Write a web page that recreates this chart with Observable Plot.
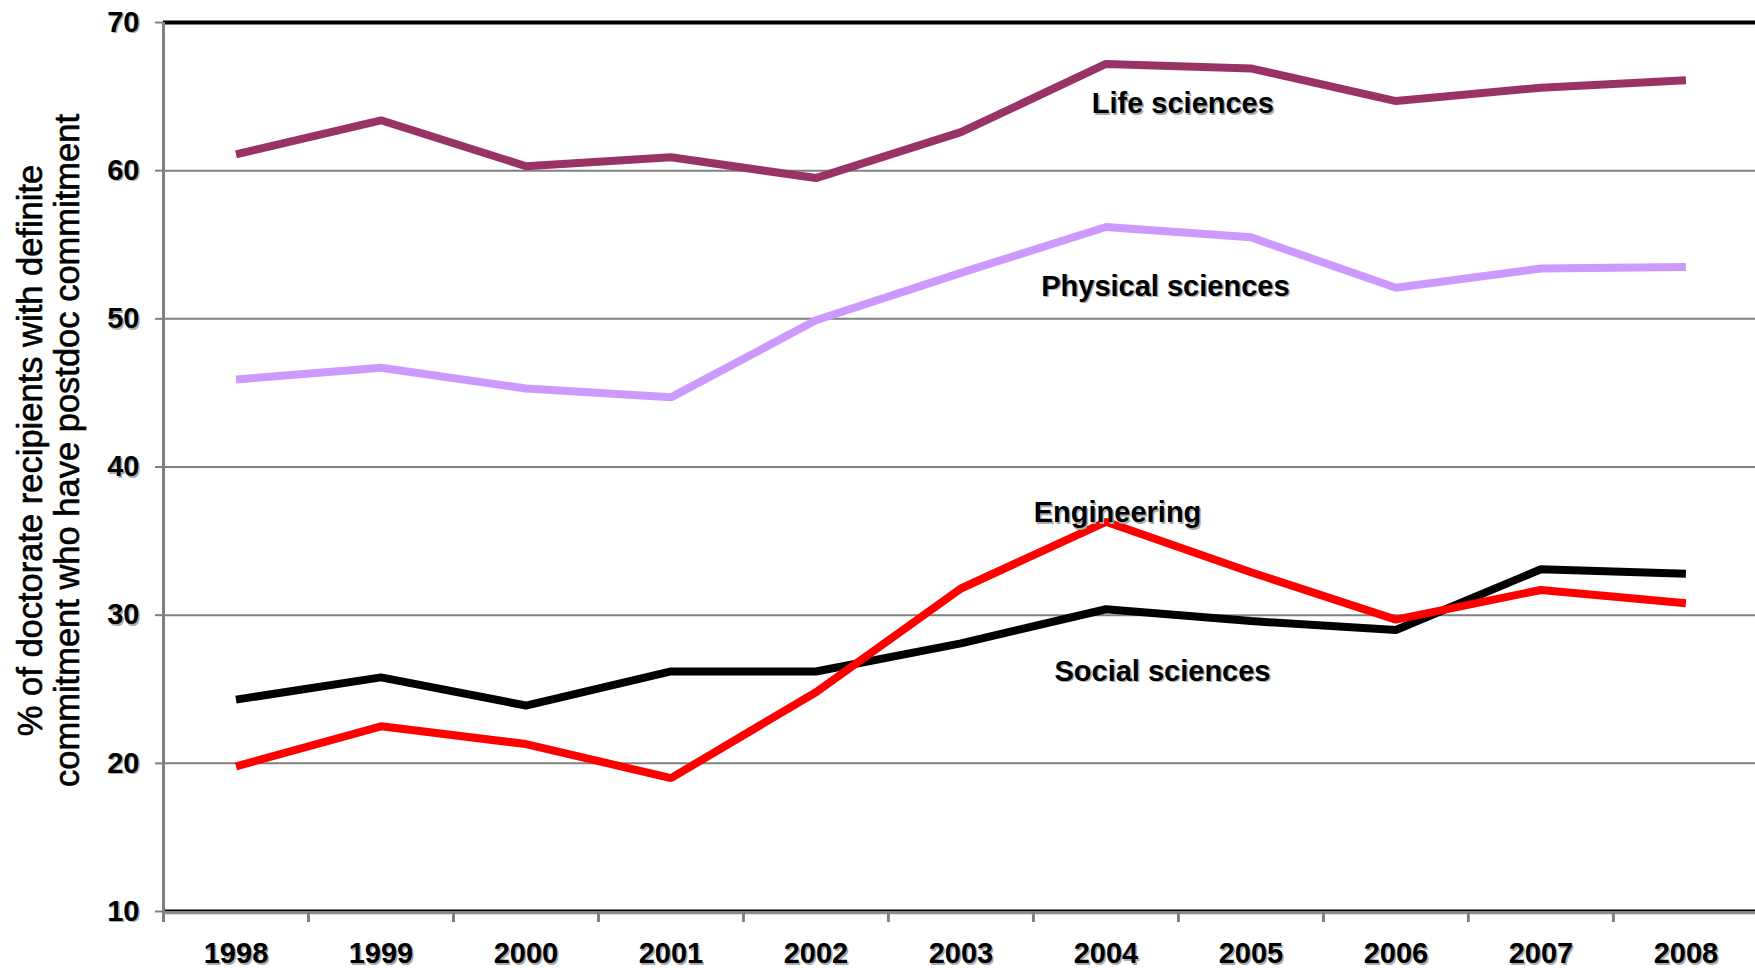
<!DOCTYPE html>
<html>
<head>
<meta charset="utf-8">
<script src="https://cdn.jsdelivr.net/npm/d3@7"></script>
<script src="https://cdn.jsdelivr.net/npm/@observablehq/plot@0.6"></script>
<style>
  html, body { margin: 0; padding: 0; background: #fff; overflow: hidden; }
  #chart svg { display: block; }
</style>
</head>
<body>
<div id="chart"></div>
<script>
// ---- data ----
const years = [1998, 1999, 2000, 2001, 2002, 2003, 2004, 2005, 2006, 2007, 2008];
const lifeSciences     = [61.1, 63.4, 60.3, 60.9, 59.5, 62.6, 67.2, 66.9, 64.7, 65.6, 66.1];
const physicalSciences = [45.9, 46.7, 45.3, 44.7, 49.9, 53.1, 56.2, 55.5, 52.1, 53.4, 53.5];
const socialSciences   = [24.3, 25.8, 23.9, 26.2, 26.2, 28.1, 30.4, 29.6, 29.0, 33.1, 32.8];
const engineering      = [19.8, 22.5, 21.3, 19.0, 24.8, 31.8, 36.3, 32.9, 29.7, 31.7, 30.8];

const seriesNames  = ["Life sciences", "Physical sciences", "Social sciences", "Engineering"];
const seriesValues = [lifeSciences, physicalSciences, socialSciences, engineering];
const seriesColors = ["#993366", "#CC99FF", "#000000", "#FF0000"];

const yTicks = [10, 20, 30, 40, 50, 60, 70];
const yTitleLines = ["% of doctorate recipients with definite", "commitment who have postdoc commitment"];

// in-chart series labels (position in data units)
const labelNames  = ["Life sciences", "Physical sciences", "Engineering", "Social sciences"];
const labelYears  = [2004.53, 2004.41, 2004.08, 2004.39];
const labelValues = [64.5, 52.2, 36.9, 26.2];

// ---- tables built from the arrays ----
const rows = seriesNames.flatMap((name, i) =>
  years.map((year, j) => ({series: name, year, value: seriesValues[i][j]})));
const labels = labelNames.map((name, i) => ({name, year: labelYears[i], value: labelValues[i]}));
const boundaries = [years[0] - 0.5, ...years.map(y => y + 0.5)];

const FONT = "Liberation Sans, Arial, sans-serif";

const chart = Plot.plot({
  width: 1755,
  height: 968,
  marginLeft: 163,
  marginRight: 0,
  marginTop: 22,
  marginBottom: 57,
  style: {fontFamily: FONT, background: "#fff", overflow: "visible"},
  x: {type: "linear", domain: [years[0] - 0.5, years[years.length - 1] + 0.48]},
  y: {domain: [yTicks[0], yTicks[yTicks.length - 1]]},
  color: {domain: seriesNames, range: seriesColors},
  marks: [
    // gridlines
    Plot.ruleY(yTicks.slice(1, -1), {stroke: "#808080", strokeWidth: 2}),
    // top border
    Plot.ruleY([yTicks[yTicks.length - 1]], {stroke: "#000", strokeWidth: 4}),
    // bottom: black plot edge + gray category axis line
    Plot.ruleY([yTicks[0]], {stroke: "#000", strokeWidth: 2, dy: -1}),
    Plot.ruleY([yTicks[0]], {stroke: "#8a8a8a", strokeWidth: 2.5, dy: 1.5}),
    // left value axis line
    Plot.ruleX([years[0] - 0.5], {stroke: "#808080", strokeWidth: 3}),
    // y axis: shadow + labels
    Plot.axisY(yTicks, {tickSize: 0, tickPadding: 24, tickFormat: d => String(d), fill: "#aaa",
      fontSize: 29, fontWeight: "bold", dx: 1.5, dy: 1.5, label: null}),
    Plot.axisY(yTicks, {tickSize: 8, tickPadding: 16, tickFormat: d => String(d), stroke: "#808080",
      strokeWidth: 2, fill: "#000", fontSize: 29, fontWeight: "bold", label: null}),
    // x axis: category boundary ticks
    Plot.axisX(boundaries, {tickSize: 10, tickFormat: () => "", stroke: "#808080", strokeWidth: 3,
      dy: 1, label: null}),
    // x axis labels (shadow + text)
    Plot.axisX(years, {tickSize: 0, tickPadding: 31, tickFormat: d => String(d), fill: "#aaa",
      fontSize: 29, fontWeight: "bold", dx: 1.5, dy: 1.5, label: null}),
    Plot.axisX(years, {tickSize: 0, tickPadding: 31, tickFormat: d => String(d), fill: "#000",
      fontSize: 29, fontWeight: "bold", label: null}),
    // series lines
    Plot.line(rows, {x: "year", y: "value", z: "series", stroke: "series", strokeWidth: 8,
      strokeLinejoin: "miter", strokeLinecap: "butt"}),
    // in-chart labels
    Plot.text(labels, {x: "year", y: "value", text: "name", fill: "#aaa", fontSize: 29,
      fontWeight: "bold", dx: 1.5, dy: 1.5}),
    Plot.text(labels, {x: "year", y: "value", text: "name", fill: "#000", fontSize: 29,
      fontWeight: "bold"}),
    // y title
    Plot.text([yTitleLines.join("\n")], {frameAnchor: "left", rotate: -90, dx: -114.5, dy: -16.5,
      fontSize: 34.5, lineHeight: 37 / 34.5, fill: "#000", stroke: "#000", strokeWidth: 0.6,
      textAnchor: "middle"})
  ]
});

document.getElementById("chart").appendChild(chart);
</script>
</body>
</html>
